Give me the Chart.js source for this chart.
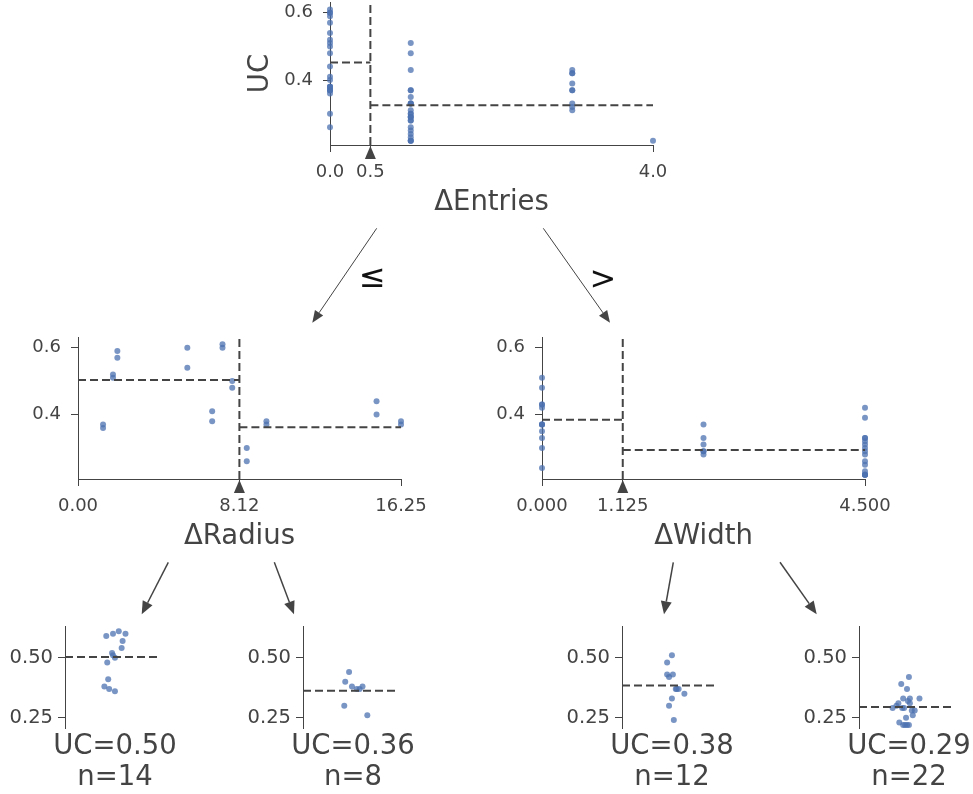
<!DOCTYPE html>
<html>
<head>
<meta charset="utf-8">
<title>Regression tree</title>
<script src="https://cdn.jsdelivr.net/npm/chart.js@4.4.1/dist/chart.umd.min.js"></script>
<style>
  html, body { margin: 0; padding: 0; background: #fff; }
  #page { position: relative; width: 973px; height: 794px; overflow: hidden; font-family: "DejaVu Sans", sans-serif; }
  #page canvas, #page svg { position: absolute; left: 0; top: 0; }
  .op { position: absolute; font-size: 32px; line-height: 32px; color: #111; transform: translate(-50%, -50%); }
  .leaf { position: absolute; width: 180px; text-align: center; font-size: 27.5px; line-height: 31px; color: #444; }
</style>
</head>
<body>
<div id="page">
  <canvas id="root" width="973" height="794"></canvas>
  <canvas id="radius" width="973" height="794"></canvas>
  <canvas id="width" width="973" height="794"></canvas>
  <canvas id="leaf1" width="973" height="794"></canvas>
  <canvas id="leaf2" width="973" height="794"></canvas>
  <canvas id="leaf3" width="973" height="794"></canvas>
  <canvas id="leaf4" width="973" height="794"></canvas>
  <svg id="edges" width="973" height="794"></svg>
</div>
<script>
// ---- data ----
// samples with ΔEntries <= 0.5
const leftUC      = [0.37, 0.36, 0.52, 0.51, 0.59, 0.57, 0.60, 0.54, 0.41, 0.38, 0.61, 0.60, 0.50, 0.48,
                     0.30, 0.26, 0.38, 0.37, 0.44, 0.40, 0.38, 0.37];
const leftEntries = [0, 0, 0, 0, 0, 0, 0, 0, 0, 0, 0, 0, 0, 0, 0, 0, 0, 0, 0, 0, 0, 0];
const leftRadius  = [1.26, 1.26, 1.76, 1.76, 1.98, 1.98, 5.5, 5.5, 6.75, 6.75, 7.27, 7.27, 7.76, 7.76,
                     8.49, 8.49, 9.48, 9.48, 15.02, 15.02, 16.25, 16.25];
const leftJitter  = [0.46, 0.52, 0.49, 0.50, 0.43, 0.60, 0.50, 0.59, 0.45, 0.41, 0.56, 0.63, 0.52, 0.44,
                     0.43, 0.67, 0.51, 0.56, 0.48, 0.44, 0.62, 0.59];

// samples with ΔEntries > 0.5
const rightUC      = [0.51, 0.48, 0.43, 0.43, 0.42, 0.37, 0.37, 0.37, 0.35, 0.33, 0.30, 0.24,
                      0.42, 0.39, 0.37, 0.33, 0.33, 0.33, 0.32, 0.31, 0.31, 0.30, 0.29, 0.29, 0.29,
                      0.28, 0.28, 0.26, 0.25, 0.23, 0.22, 0.22, 0.22, 0.22];
const rightEntries = [1, 1, 1, 3, 3, 1, 3, 1, 1, 1, 1, 1,
                      3, 3, 3, 1, 3, 1, 3, 3, 1, 1, 1, 1, 1, 1, 1, 1, 1, 1, 1, 1, 1, 4];
const rightWidth   = [0, 0, 0, 0, 0, 0, 0, 0, 0, 0, 0, 0,
                      4.5, 4.5, 2.25, 2.25, 4.5, 4.5, 4.5, 2.25, 4.5, 4.5, 2.25, 2.25, 4.5,
                      2.25, 4.5, 4.5, 4.5, 4.5, 4.5, 4.5, 4.5, 4.5];
const rightJitter  = [0.52, 0.47, 0.47, 0.53, 0.49, 0.56, 0.59, 0.57, 0.65, 0.52, 0.49, 0.54,
                      0.52, 0.44, 0.50, 0.46, 0.53, 0.63, 0.51, 0.41, 0.53, 0.39, 0.35, 0.45, 0.47,
                      0.58, 0.55, 0.56, 0.49, 0.42, 0.46, 0.50, 0.52, 0.48];

const rootSplit   = 0.5;
const radiusSplit = 8.12;
const widthSplit  = 1.125;

const rootMeans   = [0.452, 0.325];
const radiusMeans = [0.503, 0.362];
const widthMeans  = [0.384, 0.294];

const ucRange      = [0.207, 0.632];
const entriesRange = [0, 4];
const radiusRange  = [0, 16.25];
const widthRange   = [0, 4.5];
const leafRange    = [0, 1];

const ucTicks        = [0.4, 0.6];
const ucTickLabels   = ['0.4', '0.6'];
const leafTicks      = [0.25, 0.5];
const leafTickLabels = ['0.25', '0.50'];
const entriesTicks   = [0, 0.5, 4];
const entriesLabels  = ['0.0', '0.5', '4.0'];
const radiusTicks    = [0, 8.12, 16.25];
const radiusLabels   = ['0.00', '8.12', '16.25'];
const widthTicks     = [0, 1.125, 4.5];
const widthLabels    = ['0.000', '1.125', '4.500'];

// ---- style ----
const PW = 973, PH = 794;
const FONT = '"DejaVu Sans", sans-serif';
const INK = '#444';
const DOT = 'rgba(76,114,176,0.75)';
Chart.defaults.font.family = FONT;

// triangle under the x axis at the split value
const splitMarker = {
  id: 'splitMarker',
  afterDraw(chart, args, opts) {
    if (opts.value == null) return;
    const { ctx, chartArea } = chart;
    const px = chart.scales.x.getPixelForValue(opts.value);
    const y0 = chartArea.bottom + 1;
    ctx.save();
    ctx.fillStyle = INK;
    ctx.beginPath();
    ctx.moveTo(px, y0);
    ctx.lineTo(px - 5.5, y0 + 13);
    ctx.lineTo(px + 5.5, y0 + 13);
    ctx.closePath();
    ctx.fill();
    ctx.restore();
  }
};

function dashed(points) {
  return { data: points, showLine: true, pointRadius: 0, borderColor: INK,
           borderWidth: 2, borderDash: [8, 4], clip: false };
}
function dots(points) {
  return { data: points, pointRadius: 3, pointBackgroundColor: DOT,
           pointBorderWidth: 0, clip: false };
}
function pts(xs, ys, keep) {
  const out = [];
  xs.forEach((x, i) => { if (!keep || keep(i)) out.push({ x: x, y: ys[i] }); });
  return out;
}

function node(id, o) {
  const a = o.area;
  const leaf = !!o.leaf;
  return new Chart(document.getElementById(id), {
    type: 'scatter',
    data: { datasets: o.datasets },
    plugins: [splitMarker],
    options: {
      responsive: false,
      animation: false,
      events: [],
      layout: {
        autoPadding: false,
        padding: { left: a.left - o.yAxisW, top: a.top, right: PW - a.right, bottom: PH - a.bottom - o.xAxisH }
      },
      plugins: {
        legend: { display: false },
        tooltip: { enabled: false },
        splitMarker: { value: o.split }
      },
      scales: {
        x: {
          type: 'linear', position: 'bottom', min: o.xRange[0], max: o.xRange[1],
          afterBuildTicks: s => { s.ticks = o.xTicks.map(v => ({ value: v })); },
          afterFit: s => { s.height = o.xAxisH; s.paddingLeft = 0; s.paddingRight = 0; },
          ticks: {
            display: !leaf, autoSkip: false, maxRotation: 0, padding: 10, color: INK,
            font: { size: 18 }, callback: (v, i) => o.xLabels[i]
          },
          grid: { display: !leaf, drawOnChartArea: false, drawTicks: true, tickLength: 7, color: INK },
          border: { display: !leaf, color: INK, width: 1 },
          title: { display: !leaf, text: o.xTitle || '', color: INK, padding: 0,
                   font: { size: 27.5, lineHeight: 1 } }
        },
        y: {
          type: 'linear', position: 'left', min: ucRange[0], max: ucRange[1],
          afterBuildTicks: s => { s.ticks = o.yTicks.map(v => ({ value: v })); },
          afterFit: s => { s.width = o.yAxisW; s.paddingTop = 0; s.paddingBottom = 0; },
          ticks: {
            autoSkip: false, padding: o.yPad, color: INK,
            font: { size: o.yFont }, callback: (v, i) => o.yLabels[i]
          },
          grid: { display: true, drawOnChartArea: false, drawTicks: true, tickLength: 7, color: INK },
          border: { display: true, color: INK, width: 1 },
          title: { display: !!o.yTitle, text: o.yTitle || '', color: INK, padding: 0,
                   font: { size: 27.5, lineHeight: 1 } }
        }
      }
    }
  });
}

// root: ΔEntries
node('root', {
  area: { left: 330, right: 653, top: 2, bottom: 145 }, yAxisW: 83, xAxisH: 72, yPad: 10, yFont: 18,
  xRange: entriesRange, xTicks: entriesTicks, xLabels: entriesLabels, xTitle: 'ΔEntries',
  yTicks: ucTicks, yLabels: ucTickLabels, yTitle: 'UC', split: rootSplit,
  datasets: [
    dashed([{ x: entriesRange[0], y: rootMeans[0] }, { x: rootSplit, y: rootMeans[0] }]),
    dashed([{ x: rootSplit, y: rootMeans[1] }, { x: entriesRange[1], y: rootMeans[1] }]),
    dashed([{ x: rootSplit, y: ucRange[0] }, { x: rootSplit, y: ucRange[1] }]),
    dots(pts(leftEntries, leftUC).concat(pts(rightEntries, rightUC)))
  ]
});

// left child: ΔRadius
node('radius', {
  area: { left: 78, right: 401, top: 337, bottom: 479 }, yAxisW: 60, xAxisH: 72, yPad: 10, yFont: 18,
  xRange: radiusRange, xTicks: radiusTicks, xLabels: radiusLabels, xTitle: 'ΔRadius',
  yTicks: ucTicks, yLabels: ucTickLabels, split: radiusSplit,
  datasets: [
    dashed([{ x: radiusRange[0], y: radiusMeans[0] }, { x: radiusSplit, y: radiusMeans[0] }]),
    dashed([{ x: radiusSplit, y: radiusMeans[1] }, { x: radiusRange[1], y: radiusMeans[1] }]),
    dashed([{ x: radiusSplit, y: ucRange[0] }, { x: radiusSplit, y: ucRange[1] }]),
    dots(pts(leftRadius, leftUC))
  ]
});

// right child: ΔWidth
node('width', {
  area: { left: 542, right: 865, top: 337, bottom: 479 }, yAxisW: 60, xAxisH: 72, yPad: 10, yFont: 18,
  xRange: widthRange, xTicks: widthTicks, xLabels: widthLabels, xTitle: 'ΔWidth',
  yTicks: ucTicks, yLabels: ucTickLabels, split: widthSplit,
  datasets: [
    dashed([{ x: widthRange[0], y: widthMeans[0] }, { x: widthSplit, y: widthMeans[0] }]),
    dashed([{ x: widthSplit, y: widthMeans[1] }, { x: widthRange[1], y: widthMeans[1] }]),
    dashed([{ x: widthSplit, y: ucRange[0] }, { x: widthSplit, y: ucRange[1] }]),
    dots(pts(rightWidth, rightUC))
  ]
});

// leaves
const leaves = [
  { id: 'leaf1', left: 65,  mean: radiusMeans[0], pts: pts(leftJitter, leftUC, i => leftRadius[i] <= radiusSplit) },
  { id: 'leaf2', left: 303, mean: radiusMeans[1], pts: pts(leftJitter, leftUC, i => leftRadius[i] > radiusSplit) },
  { id: 'leaf3', left: 622, mean: widthMeans[0],  pts: pts(rightJitter, rightUC, i => rightWidth[i] <= widthSplit) },
  { id: 'leaf4', left: 859, mean: widthMeans[1],  pts: pts(rightJitter, rightUC, i => rightWidth[i] > widthSplit) }
];
const page = document.getElementById('page');
leaves.forEach(lf => {
  const area = { left: lf.left, right: lf.left + 96, top: 626, bottom: 728 };
  node(lf.id, {
    leaf: true, area: area, yAxisW: 60, xAxisH: 65, yPad: 5, yFont: 19.5,
    xRange: leafRange, xTicks: [], xLabels: [],
    yTicks: leafTicks, yLabels: leafTickLabels,
    datasets: [
      dashed([{ x: leafRange[0], y: lf.mean }, { x: leafRange[1], y: lf.mean }]),
      dots(lf.pts)
    ]
  });
  const d = document.createElement('div');
  d.className = 'leaf';
  d.style.left = ((area.left + area.right) / 2 + 2 - 90) + 'px';
  d.style.top = '729px';
  d.innerHTML = 'UC=' + lf.mean.toFixed(2) + '<br>n=' + lf.pts.length;
  page.appendChild(d);
});

// tree edges
const edges = [
  [376.7, 228.3, 312.3, 322.7, 1.0, 12, 10],
  [543.3, 228.3, 610.0, 322.7, 1.0, 12, 10],
  [168.3, 562.3, 141.7, 614.3, 1.5, 13, 11],
  [274.3, 562.3, 294.0, 614.3, 1.5, 13, 11],
  [673.3, 562.3, 664.0, 614.3, 1.5, 13, 11],
  [780.0, 562.3, 816.7, 614.3, 1.5, 13, 11]
];
const svg = document.getElementById('edges');
const NS = 'http://www.w3.org/2000/svg';
edges.forEach(([x1, y1, x2, y2, w, hl, hw]) => {
  const len = Math.hypot(x2 - x1, y2 - y1);
  const ux = (x2 - x1) / len, uy = (y2 - y1) / len;
  const bx = x2 - ux * hl, by = y2 - uy * hl;
  const line = document.createElementNS(NS, 'line');
  line.setAttribute('x1', x1); line.setAttribute('y1', y1);
  line.setAttribute('x2', bx); line.setAttribute('y2', by);
  line.setAttribute('stroke', INK); line.setAttribute('stroke-width', w);
  svg.appendChild(line);
  const head = document.createElementNS(NS, 'polygon');
  head.setAttribute('points', [
    [x2, y2], [bx - uy * hw / 2, by + ux * hw / 2], [bx + uy * hw / 2, by - ux * hw / 2]
  ].map(p => p.join(',')).join(' '));
  head.setAttribute('fill', INK);
  svg.appendChild(head);
});

// split direction labels
[['≤', 372.5, 276], ['>', 603, 278]].forEach(([t, x, y]) => {
  const d = document.createElement('div');
  d.className = 'op';
  d.textContent = t;
  d.style.left = x + 'px';
  d.style.top = y + 'px';
  page.appendChild(d);
});
</script>
</body>
</html>
